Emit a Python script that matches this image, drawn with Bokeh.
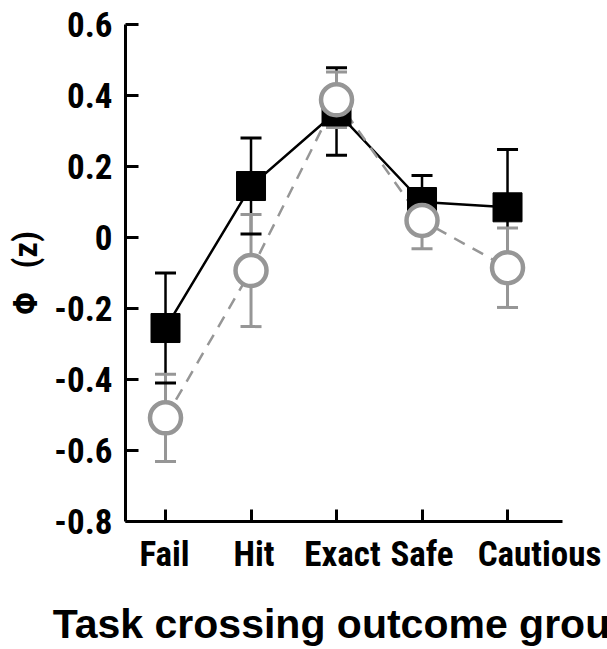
from bokeh.plotting import figure
from bokeh.models import Range1d, FixedTicker, CustomJSTickFormatter
from bokeh.embed import file_html
from bokeh.resources import INLINE

categories = ["Fail", "Hit", "Exact", "Safe", "Cautious"]
x_pos = [1, 2, 3, 4, 5]

# series 1: black squares, solid line
black_mean = [-0.255, 0.145, 0.355, 0.10, 0.085]
black_err = [0.155, 0.135, 0.123, 0.075, 0.163]

# series 2: grey circles, dashed line
grey_mean = [-0.508, -0.093, 0.388, 0.048, -0.085]
grey_err = [0.123, 0.158, 0.078, 0.08, 0.112]

y_ticks = [-0.8, -0.6, -0.4, -0.2, 0, 0.2, 0.4, 0.6]
y_tick_labels = ["-0.8", "-0.6", "-0.4", "-0.2", "0", "0.2", "0.4", "0.6"]

# horizontal nudges of the category labels, in pixels (layout only)
label_dx = [-1, 3, 6, 0, 32]

BLACK = "#000000"
GREY = "#969696"
FONT = "Roboto Condensed"
TFONT = "Liberation Sans"

X0, X1 = 0.532, 5.643
FRAME_W = 607 - 125 - 45
px_per_unit = FRAME_W / (X1 - X0)
label_at = [x + d / px_per_unit for x, d in zip(x_pos, label_dx)]

p = figure(width=607, height=649, output_backend="svg", toolbar_location=None,
           x_range=Range1d(X0, X1), y_range=Range1d(-0.8, 0.6),
           min_border_left=125, min_border_right=45, min_border_top=24, min_border_bottom=126)
p.outline_line_color = None
p.grid.visible = False
p.background_fill_color = "white"
p.border_fill_color = "white"

b_up = [m + e for m, e in zip(black_mean, black_err)]
b_lo = [m - e for m, e in zip(black_mean, black_err)]
g_up = [m + e for m, e in zip(grey_mean, grey_err)]
g_lo = [m - e for m, e in zip(grey_mean, grey_err)]

p.line(x_pos, black_mean, line_color=BLACK, line_width=2.5)
p.line(x_pos, grey_mean, line_color=GREY, line_width=2.5, line_dash="12 9")

p.segment(x0=x_pos, y0=b_lo, x1=x_pos, y1=b_up, line_color=BLACK, line_width=2.5)
p.segment(x0=x_pos, y0=g_lo, x1=x_pos, y1=g_up, line_color=GREY, line_width=3)
p.scatter(x_pos, g_up, marker="dash", size=21, line_color=GREY, line_width=3)
p.scatter(x_pos, g_lo, marker="dash", size=21, line_color=GREY, line_width=3)
p.scatter(x_pos, b_up, marker="dash", size=21, line_color=BLACK, line_width=3)
p.scatter(x_pos, b_lo, marker="dash", size=21, line_color=BLACK, line_width=3)

p.scatter(x_pos, black_mean, marker="square", size=29, fill_color=BLACK, line_color=BLACK)
p.scatter(x_pos, grey_mean, marker="circle", size=31, fill_color="white",
          line_color=GREY, line_width=4.5)

# x axis: tick marks drawn as minor ticks at the categories, labels at nudged major positions
xa = p.xaxis[0]
xa.ticker = FixedTicker(ticks=label_at, minor_ticks=x_pos)
xa.formatter = CustomJSTickFormatter(args=dict(cats=categories), code="return cats[index];")
xa.major_tick_line_color = None
xa.minor_tick_in = 12
xa.minor_tick_out = 0
xa.minor_tick_line_width = 3
xa.minor_tick_line_color = BLACK
xa.axis_line_width = 3
xa.major_label_text_font = FONT
xa.major_label_text_font_style = "bold"
xa.major_label_text_font_size = "35px"
xa.major_label_text_color = BLACK
xa.major_label_standoff = 6
xa.axis_label = "Task crossing outcome group"
xa.axis_label_text_font = TFONT
xa.axis_label_text_font_style = "bold"
xa.axis_label_text_font_size = "41px"
xa.axis_label_text_color = BLACK
xa.axis_label_standoff = 23

# y axis
ya = p.yaxis[0]
ya.ticker = FixedTicker(ticks=y_ticks)
ya.major_label_overrides = {t: l for t, l in zip(y_ticks, y_tick_labels)}
ya.major_tick_in = 13
ya.major_tick_out = 0
ya.minor_tick_line_color = None
ya.axis_line_width = 3
ya.major_tick_line_width = 3
ya.major_label_text_font = FONT
ya.major_label_text_font_style = "bold"
ya.major_label_text_font_size = "35px"
ya.major_label_text_color = BLACK
ya.major_label_standoff = 13
ya.axis_label = "Φ\u00a0\u00a0\u00a0(z)"
ya.axis_label_text_font = FONT
ya.axis_label_text_font_style = "bold"
ya.axis_label_text_font_size = "34px"
ya.axis_label_text_color = BLACK
ya.axis_label_standoff = 6

open("out.html", "w").write(file_html(p, INLINE))
